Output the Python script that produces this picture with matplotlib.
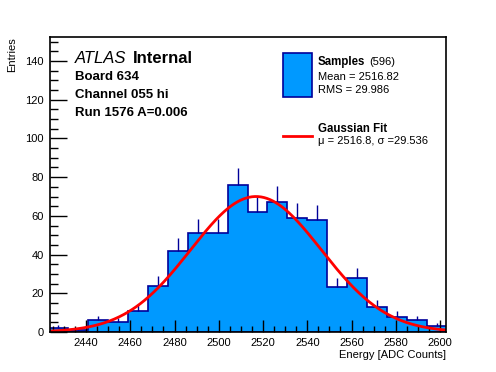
import numpy as np
import matplotlib
matplotlib.use('Agg')
from matplotlib import pyplot as plt
from matplotlib.ticker import MultipleLocator

plt.rcParams['font.family'] = ['Liberation Sans', 'DejaVu Sans']

# histogram: 20 bins of 9 ADC counts
bin_lo = 2423
bin_w = 9
counts = [2, 1, 6, 5, 11, 24, 42, 51, 51, 76, 62, 67, 59, 58, 23, 28, 13, 8, 6, 3]

# gaussian fit parameters
fit_mu = 2516.8
fit_sigma = 29.536
fit_amp = 70.0

n_entries = 596
mean_txt = '2516.82'
rms_txt = '29.986'

info_lines = ['Board 634', 'Channel 055 hi', 'Run 1576 A=0.006']

counts = np.array(counts, dtype=float)
edges = bin_lo + bin_w * np.arange(len(counts) + 1)
centers = 0.5 * (edges[:-1] + edges[1:])

fill_c = '#0099ff'
line_c = '#000099'

fig = plt.figure(figsize=(4.96, 3.72), dpi=100)
ax = fig.add_axes([0.0998, 0.1075, 0.7994, 0.793])

ax.hist(centers, bins=edges, weights=counts, histtype='stepfilled',
        facecolor=fill_c, edgecolor=line_c, linewidth=1.2)
ax.vlines(centers, counts, counts + np.sqrt(counts), color=line_c, linewidth=1)

xf = np.linspace(edges[0], edges[-1], 400)
yf = fit_amp * np.exp(-0.5 * ((xf - fit_mu) / fit_sigma) ** 2)
ax.plot(xf, yf, color='#ff0000', linewidth=2)

ax.set_xlim(2423.5, 2602.7)
ax.set_ylim(0, 152.4)
ax.xaxis.set_major_locator(MultipleLocator(20))
ax.xaxis.set_minor_locator(MultipleLocator(5))
ax.yaxis.set_major_locator(MultipleLocator(20))
ax.yaxis.set_minor_locator(MultipleLocator(5))
ax.tick_params(which='both', direction='in', top=False, right=False, labelsize=8)
ax.tick_params(axis='x', which='major', length=9, width=1, pad=4)
ax.tick_params(axis='x', which='minor', length=4.5, width=1)
ax.tick_params(axis='y', which='major', length=12, width=1, pad=4)
ax.tick_params(axis='y', which='minor', length=6, width=1)
for s in ax.spines.values():
    s.set_linewidth(1.2)

fig.text(0.899, 0.045, 'Energy [ADC Counts]', ha='right', va='center', fontsize=8)
fig.text(0.024, 0.90, 'Entries', ha='center', va='top', rotation=90, fontsize=8)

# labels
fig.text(0.151, 0.844, 'ATLAS', style='italic', fontsize=12, va='center')
fig.text(0.268, 0.844, 'Internal', weight='bold', fontsize=12, va='center')
for i, s in enumerate(info_lines):
    fig.text(0.151, 0.794 - i * 0.0495, s, weight='bold', fontsize=9.5, va='center')

# legend drawn by hand
fig.add_artist(plt.Rectangle((0.571, 0.739), 0.058, 0.119, transform=fig.transFigure,
                             facecolor=fill_c, edgecolor=line_c, linewidth=1.2))
fig.text(0.641, 0.834, 'Samples', weight='bold', fontsize=8.3, va='center')
fig.text(0.745, 0.834, '(%d)' % n_entries, fontsize=8, va='center')
fig.text(0.641, 0.794, 'Mean = ' + mean_txt, fontsize=8, va='center')
fig.text(0.641, 0.758, 'RMS = ' + rms_txt, fontsize=8, va='center')
fig.add_artist(plt.Line2D([0.571, 0.629], [0.634, 0.634], color='#ff0000', linewidth=2))
fig.text(0.641, 0.652, 'Gaussian Fit', weight='bold', fontsize=8.3, va='center')
fig.text(0.641, 0.622, 'μ = %s, σ =%s' % (fit_mu, fit_sigma), fontsize=8, va='center')

fig.savefig('out.png', dpi=100)
